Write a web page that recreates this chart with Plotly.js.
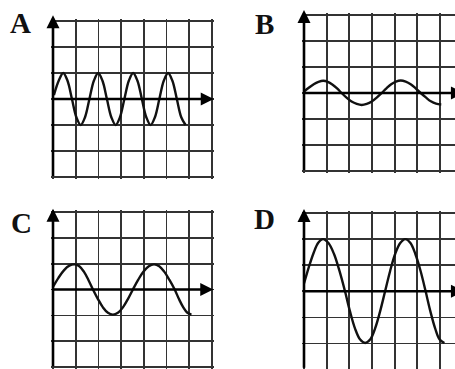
<!DOCTYPE html>
<html>
<head>
<meta charset="utf-8">
<script src="https://cdn.plot.ly/plotly-3.0.1.min.js"></script>
<style>
    html, body { margin: 0; padding: 0; background: #fff; }
    #plot { width: 455px; height: 369px; }
</style>
</head>
<body>
<div id="plot"></div>
<script>
/*global Plotly*/
'use strict';

// Panel letters
var panelNames = ['A', 'B', 'C', 'D'];

// Waves, in grid squares from where the two axes cross
var waveAx = [0.04, 0.26, 0.45, 0.64, 0.835, 1.03, 1.22, 1.41, 1.605, 1.80, 1.99, 2.18,
              2.375, 2.57, 2.76, 2.95, 3.145, 3.34, 3.53, 3.72, 3.915, 4.11, 4.30, 4.49,
              4.685, 4.88, 5.07, 5.26, 5.455, 5.65, 5.84];
var waveAy = [0.15, 0.72, 1.0, 0.7, 0, -0.7, -1.0, -0.7, 0, 0.7, 1.0, 0.7,
              0, -0.7, -1.0, -0.7, 0, 0.7, 1.0, 0.7, 0, -0.7, -1.0, -0.7,
              0, 0.7, 1.0, 0.7, 0, -0.7, -1.0];

var waveBx = [0, 0.21, 0.43, 0.64, 0.85, 1.05, 1.25, 1.46, 1.66, 1.88, 2.1, 2.33, 2.55,
              2.77, 2.99, 3.21, 3.43, 3.64, 3.85, 4.06, 4.27, 4.49, 4.71, 4.93, 5.15,
              5.38, 5.6, 5.83, 6.06];
var waveBy = [0.05, 0.2, 0.34, 0.43, 0.47, 0.43, 0.33, 0.18, 0, -0.18, -0.33, -0.42, -0.46,
              -0.42, -0.33, -0.18, 0, 0.18, 0.34, 0.44, 0.48, 0.44, 0.34, 0.18, 0,
              -0.17, -0.32, -0.41, -0.44];

var waveCx = [0, 0.24, 0.48, 0.72, 0.96, 1.16, 1.36, 1.56, 1.76, 1.98, 2.2, 2.42, 2.64,
              2.86, 3.08, 3.3, 3.52, 3.75, 3.98, 4.22, 4.45, 4.68, 4.9, 5.13, 5.36,
              5.55, 5.74, 5.92, 6.1];
var waveCy = [0.1, 0.45, 0.74, 0.92, 0.97, 0.9, 0.69, 0.37, 0, -0.37, -0.69, -0.9, -0.97,
              -0.9, -0.69, -0.37, 0, 0.37, 0.69, 0.9, 0.97, 0.9, 0.69, 0.37, 0,
              -0.37, -0.69, -0.9, -0.97];

var waveDx = [0, 0.21, 0.42, 0.63, 0.84, 1.08, 1.33, 1.57, 1.81, 2.03, 2.25, 2.48, 2.7,
              2.92, 3.14, 3.36, 3.58, 3.8, 4.02, 4.25, 4.47, 4.7, 4.92, 5.15, 5.37,
              5.58, 5.79, 5.99, 6.2];
var waveDy = [0.3, 0.92, 1.46, 1.86, 2.0, 1.85, 1.42, 0.77, 0, -0.77, -1.42, -1.85, -1.98,
              -1.85, -1.42, -0.77, 0, 0.77, 1.42, 1.85, 2.0, 1.85, 1.42, 0.77, 0,
              -0.77, -1.42, -1.85, -1.98];

var wavesX = [waveAx, waveBx, waveCx, waveDx];
var wavesY = [waveAy, waveBy, waveCy, waveDy];

var W = 455, H = 369;

// Where each grid sits on the page, in pixels (the scan is a bit taller than wide)
var boxes = [
    {left: 53, top: 21, cw: 22.7, ch: 26, tipX: 7.08, tipY: 3.22, lx: 20, ly: 23},
    {left: 304, top: 15, cw: 22.65, ch: 26, tipX: 7.06, tipY: 3.19, lx: 264, ly: 24},
    {left: 53, top: 211.8, cw: 22.7, ch: 25.9, tipX: 7.06, tipY: 3.12, lx: 21, ly: 223},
    {left: 304, top: 213, cw: 22.65, ch: 26.1, tipX: 7.06, tipY: 3.15, lx: 264, ly: 219}
];

// Axis domain and range so that the 7 x 6 squares land where the scan has them
function panelAxes(box) {
    var pad = 2;
    var x0 = box.left - pad;
    var x1 = Math.min(W, box.left + 7 * box.cw + pad);
    var y0 = box.top - pad;
    var y1 = Math.min(H, box.top + 6 * box.ch + pad);
    var yAxisPx = box.top + 3 * box.ch;
    return {
        xdomain: [x0 / W, x1 / W],
        ydomain: [1 - y1 / H, 1 - y0 / H],
        xrange: [(x0 - box.left) / box.cw, (x1 - box.left) / box.cw],
        yrange: [(yAxisPx - y1) / box.ch, (yAxisPx - y0) / box.ch]
    };
}

function gridAxis(domain, range, anchor) {
    return {
        domain: domain,
        range: range,
        anchor: anchor,
        tick0: 0,
        dtick: 1,
        showgrid: true,
        gridcolor: '#333',
        gridwidth: 1.8,
        zeroline: false,
        showline: false,
        showticklabels: false,
        ticks: '',
        fixedrange: true
    };
}

function arrow(n, x, y, ax, ay) {
    return {
        xref: 'x' + n, yref: 'y' + n,
        axref: 'x' + n, ayref: 'y' + n,
        x: x, y: y, ax: ax, ay: ay,
        text: ' ',
        font: {size: 1},
        borderpad: 0,
        showarrow: true,
        arrowhead: 2,
        arrowsize: 1,
        arrowwidth: 2.6,
        arrowcolor: '#000',
        standoff: 0
    };
}

var data = [], annotations = [];
var layout = {
    width: W,
    height: H,
    margin: {l: 0, r: 0, t: 0, b: 0, pad: 0},
    paper_bgcolor: '#fff',
    plot_bgcolor: '#fff',
    showlegend: false
};

panelNames.forEach(function (name, i) {
    var n = i === 0 ? '' : String(i + 1);
    var box = boxes[i];
    var a = panelAxes(box);

    layout['xaxis' + n] = gridAxis(a.xdomain, a.xrange, 'y' + n);
    layout['yaxis' + n] = gridAxis(a.ydomain, a.yrange, 'x' + n);

    data.push({
        x: wavesX[i],
        y: wavesY[i],
        xaxis: 'x' + n,
        yaxis: 'y' + n,
        type: 'scatter',
        mode: 'lines',
        line: {color: '#111', width: 2.4, shape: 'spline', smoothing: 1},
        hoverinfo: 'skip'
    });

    // The two axes with their arrowheads
    annotations.push(arrow(n, 0, box.tipY, 0, Math.max(-3, a.yrange[0] + 0.01)));
    annotations.push(arrow(n, box.tipX, 0, 0, 0));

    // Panel letter
    annotations.push({
        xref: 'paper', yref: 'paper',
        x: box.lx / W, y: 1 - box.ly / H,
        xanchor: 'center', yanchor: 'middle',
        text: '<b>' + name + '</b>',
        showarrow: false,
        font: {family: 'Liberation Serif, serif', size: 29, color: '#111'}
    });
});

layout.annotations = annotations;

Plotly.newPlot('plot', data, layout, {staticPlot: true, displayModeBar: false});
</script>
</body>
</html>
